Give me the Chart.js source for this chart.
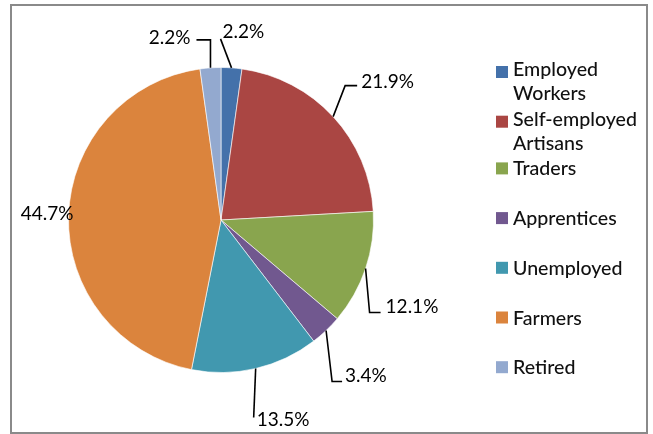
<!DOCTYPE html>
<html>
<head>
<meta charset="utf-8">
<script src="https://cdn.jsdelivr.net/npm/chart.js@4.4.1/dist/chart.umd.min.js"></script>
<style>
  html, body { margin: 0; padding: 0; background: #fff; }
  #wrap { position: relative; width: 653px; height: 434px; }
  #frame {
    position: absolute; left: 10px; top: 4px; width: 634px; height: 426px;
    border: 2px solid #8a8a8a; pointer-events: none;
  }
  canvas { position: absolute; left: 0; top: 0; }
</style>
</head>
<body>
<div id="wrap">
  <canvas id="pie" width="653" height="434"></canvas>
  <div id="frame"></div>
</div>
<script>
  const categories = ["Employed Workers", "Self-employed Artisans", "Traders", "Apprentices", "Unemployed", "Farmers", "Retired"];
  const shares = [2.2, 21.9, 12.1, 3.4, 13.5, 44.7, 2.2];
  const colors = ["#4471AA", "#AA4643", "#89A54E", "#71588F", "#4198AF", "#DB843D", "#93A9CF"];

  // leader line: elbow offset from slice edge, horizontal run, text placement
  const leaders = [
    { dx: -11, dy: -29, run: 0, tx: 2, ty: -7, align: "left" },
    { dx: 12, dy: -31, run: 12, tx: 4, ty: -4, align: "left" },
    { dx: 4, dy: 44, run: 11, tx: 5, ty: -6, align: "left" },
    { dx: 6, dy: 51, run: 10, tx: 3, ty: -6, align: "left" },
    { dx: -2, dy: 49, run: 0, tx: 3, ty: 2, align: "left" },
    { dx: 0, dy: 0, run: 0, tx: 5, ty: -2, align: "right", noLine: true },
    { dx: 0, dy: -28, run: -14, tx: -6, ty: -2, align: "right" },
  ];

  const FONT = "Lato, 'Open Sans', sans-serif";

  const pieLabels = {
    id: "pieLabels",
    afterDatasetsDraw(chart) {
      const { ctx } = chart;
      const meta = chart.getDatasetMeta(0);
      ctx.save();
      ctx.font = "19px " + FONT;
      ctx.fillStyle = "#000";
      ctx.strokeStyle = "#000";
      ctx.lineWidth = 1.6;
      ctx.textBaseline = "middle";
      meta.data.forEach((arc, i) => {
        const p = arc.getProps(["x", "y", "startAngle", "endAngle", "outerRadius"], true);
        const mid = (p.startAngle + p.endAngle) / 2;
        const ax = p.x + Math.cos(mid) * p.outerRadius;
        const ay = p.y + Math.sin(mid) * p.outerRadius;
        const L = leaders[i];
        const ex = ax + L.dx, ey = ay + L.dy;
        const hx = ex + L.run;
        if (!L.noLine) {
          ctx.beginPath();
          ctx.moveTo(ax, ay);
          ctx.lineTo(ex, ey);
          ctx.lineTo(hx, ey);
          ctx.stroke();
        }
        ctx.textAlign = L.align;
        ctx.fillText(shares[i].toFixed(1) + "%", hx + L.tx, ey + L.ty);
      });
      ctx.restore();
    },
  };

  const sideLegend = {
    id: "sideLegend",
    afterDraw(chart) {
      const { ctx } = chart;
      const x0 = 496, textX = 513, maxW = 130;
      const base0 = 76, step = 49.7, lineH = 24;
      ctx.save();
      ctx.font = "500 19.6px " + FONT;
      ctx.textAlign = "left";
      ctx.textBaseline = "alphabetic";
      chart.data.labels.forEach((label, i) => {
        const words = label.split(" ");
        const lines = [];
        let cur = "";
        words.forEach((w) => {
          const t = cur ? cur + " " + w : w;
          if (cur && ctx.measureText(t).width > maxW) {
            lines.push(cur);
            cur = w;
          } else cur = t;
        });
        lines.push(cur);
        const base = base0 + step * i;
        const mid = base - 7 + (lines.length > 1 ? 3 : 0);
        ctx.fillStyle = chart.data.datasets[0].backgroundColor[i];
        ctx.fillRect(x0, mid - 6, 12, 12);
        ctx.fillStyle = "#111";
        lines.forEach((ln, k) => ctx.fillText(ln, textX, base + k * lineH));
      });
      ctx.restore();
    },
  };

  new Chart(document.getElementById("pie"), {
    type: "pie",
    data: {
      labels: categories,
      datasets: [
        {
          data: shares,
          backgroundColor: colors,
          borderColor: "rgba(255,255,255,0.6)",
          borderWidth: 1,
        },
      ],
    },
    options: {
      responsive: false,
      animation: false,
      layout: { padding: { left: 68, top: 67, right: 279, bottom: 61 } },
      plugins: { legend: { display: false }, tooltip: { enabled: false } },
    },
    plugins: [pieLabels, sideLegend],
  });
</script>
</body>
</html>
